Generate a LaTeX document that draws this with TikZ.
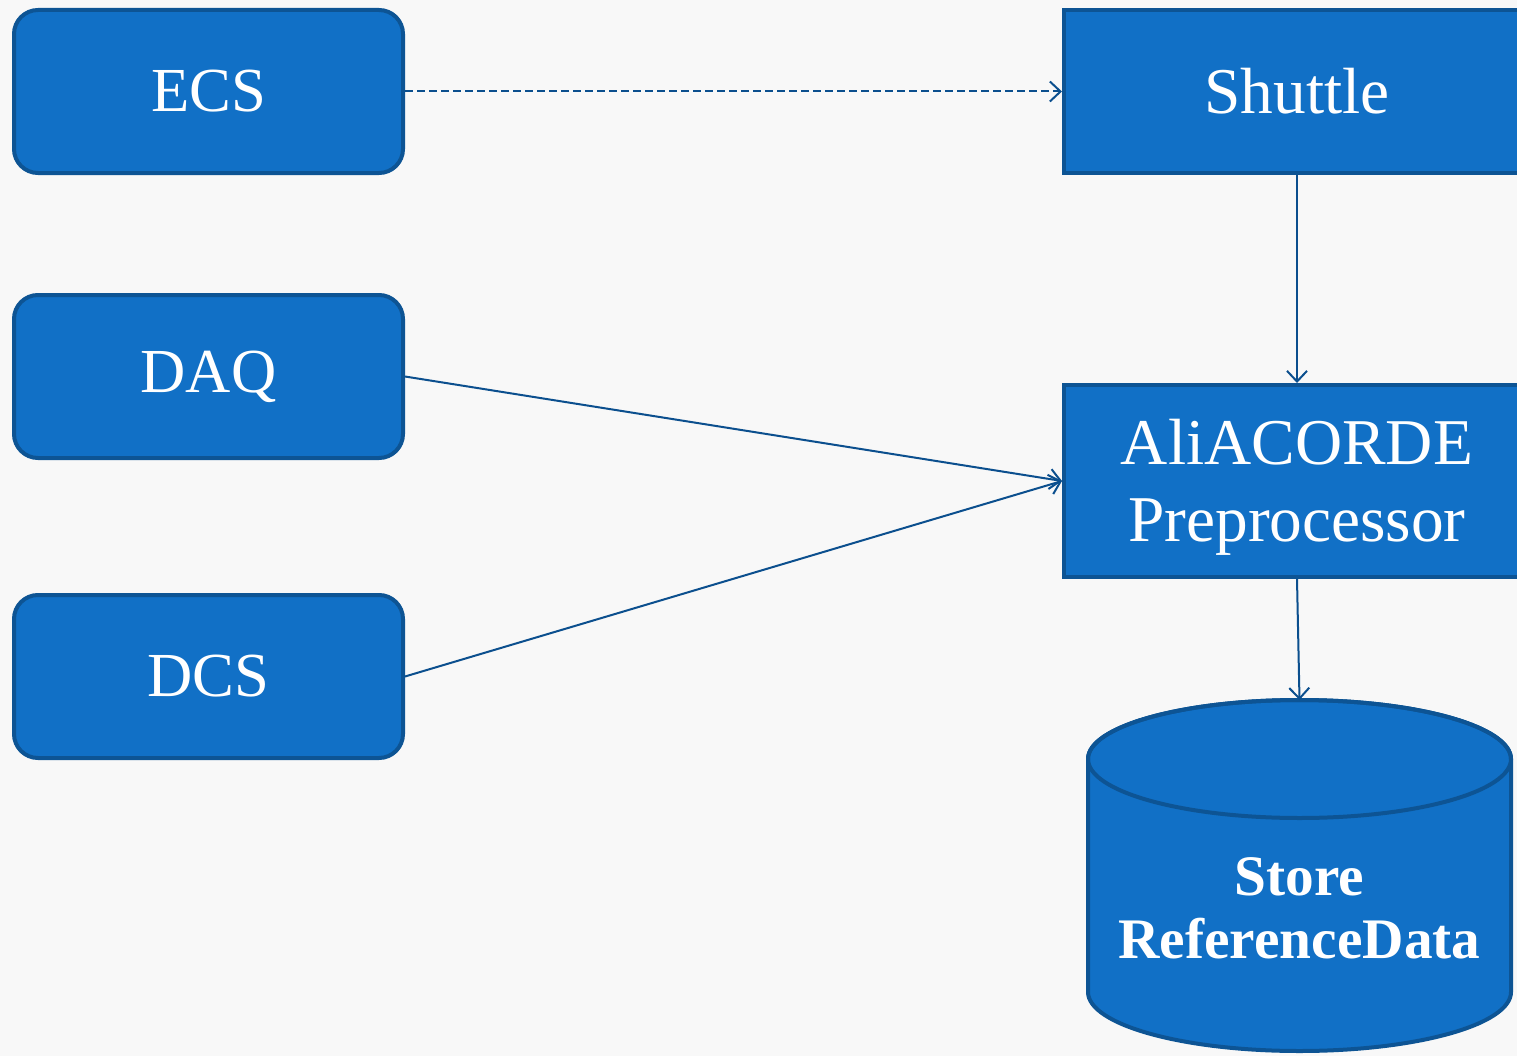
\documentclass[tikz,border=0pt]{standalone}
\usepackage{fontspec}
\setmainfont{Liberation Serif}
\usetikzlibrary{arrows.meta}
\definecolor{boxfill}{HTML}{1170C6}
\definecolor{boxline}{HTML}{0D5494}
\definecolor{arrowc}{HTML}{0B4F8E}
\definecolor{bg}{HTML}{F8F8F8}
\tikzset{
  roundbox/.style={draw=boxline, fill=boxfill, line width=3pt, rounded corners=18pt,
    minimum width=291.75pt, minimum height=122.25pt, text=white,
    font=\fontsize{47}{56}\selectfont, inner sep=0pt},
  squarebox/.style={draw=boxline, fill=boxfill, line width=3pt,
    minimum width=349.5pt, text=white, align=center,
    font=\fontsize{49}{58}\selectfont, inner sep=0pt},
  boxtext/.style={text=white, align=center, font=\fontsize{49}{58}\selectfont, inner sep=0pt},
  link/.style={draw=arrowc, line width=1.5pt, -{Straight Barb[length=8pt,width=15pt,line width=1.5pt]}},
}
\begin{document}
\begin{tikzpicture}[x=0.75pt,y=-0.75pt]
\fill[bg] (0,0) rectangle (1517,1056);
\useasboundingbox (0,0) rectangle (1517,1056);
\clip (0,0) rectangle (1517,1056);
% left boxes
\node[roundbox] (ecs) at (208.5,91.5) {ECS};
\node[roundbox] (daq) at (208.5,376.5) {DAQ};
\node[roundbox] (dcs) at (208.5,676.5) {DCS};
% right boxes
\node[squarebox, minimum height=122.25pt] (shuttle) at (1297,91.5) {Shuttle};
\node[squarebox, minimum height=144pt] (ali) at (1297,481) {};
\node[boxtext] (alitext) at (1297,487) {AliACORDE\\Preprocessor};
% cylinder
\path[draw=boxline, fill=boxfill, line width=3pt]
  (1088,759) -- (1088,992) arc[start angle=180, end angle=0, x radius=211.5, y radius=59]
  -- (1511,759) arc[start angle=360, end angle=180, x radius=211.5, y radius=59] -- cycle;
\draw[boxline, line width=3pt] (1299.5,759) ellipse[x radius=211.5, y radius=59];
\coordinate (cyltop) at (1299.5,700);
\node[text=white, align=center, font=\bfseries\fontsize{43}{47}\selectfont] (store) at (1299.5,908) {Store\\ReferenceData};
% connectors
\draw[link, dash pattern=on 6pt off 3pt] (ecs.east) -- (shuttle.west);
\draw[link] (shuttle.south) -- (ali.north);
\draw[link] (daq.east) -- (ali.west);
\draw[link] (dcs.east) -- (ali.west);
\draw[link] (ali.south) -- (cyltop);
\end{tikzpicture}
\end{document}
